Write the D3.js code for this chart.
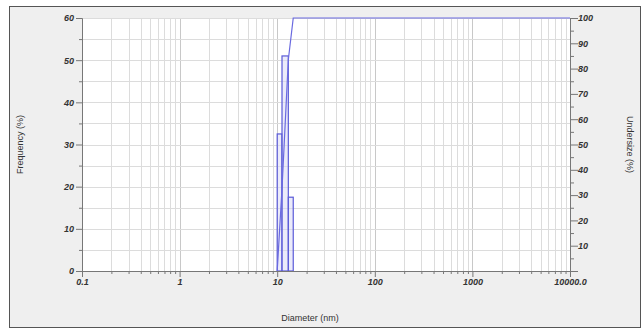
<!DOCTYPE html>
<html>
<head>
<meta charset="utf-8">
<script src="https://cdn.jsdelivr.net/npm/d3@7"></script>
<style>
  body { margin: 0; background: #fff; }
  text { font-family: "Liberation Sans", Arial, sans-serif; fill: #333; }
</style>
</head>
<body>
<div id="chart"></div>
<script>
// bin edges (nm) and frequency per bin (%)
var binEdges = [10.0, 11.2, 13.0, 14.6];
var frequency = [32.5, 51, 17.5];
// cumulative undersize (%) at each edge, then flat to the end of the axis
var cumDiameter = [10.0, 11.2, 13.0, 14.6, 10000];
var undersize = [0, 32.5, 83.5, 100, 100];

var xTickLabels = [0.1, 1, 10, 100, 1000, 10000];
var leftTicks = [0, 10, 20, 30, 40, 50, 60];
var rightTicks = [10, 20, 30, 40, 50, 60, 70, 80, 90, 100];

var width = 643, height = 329;
// note: "top" is taken by window.top, so use plot* names
var plotLeft = 82, plotRight = 570, plotTop = 18, plotBottom = 271;

var svg = d3.select("#chart").append("svg")
    .attr("width", width)
    .attr("height", height);

// outer frame
svg.append("rect")
    .attr("x", 9.5).attr("y", 6.5)
    .attr("width", 631).attr("height", 321)
    .attr("fill", "#efefef")
    .attr("stroke", "#555");

svg.append("rect")
    .attr("x", plotLeft).attr("y", plotTop)
    .attr("width", plotRight - plotLeft).attr("height", plotBottom - plotTop)
    .attr("fill", "#fff");

var x = d3.scaleLog().domain([0.1, 10000]).range([plotLeft, plotRight]);
var yL = d3.scaleLinear().domain([0, 60]).range([plotBottom, plotTop]);
var yR = d3.scaleLinear().domain([0, 100]).range([plotBottom, plotTop]);

// minor log ticks for grid
var minor = [];
xTickLabels.slice(0, -1).forEach(function (d) {
    for (var k = 1; k < 10; k++) minor.push(+(d * k).toPrecision(6));
});
minor.push(10000);

var grid = svg.append("g");
grid.selectAll("line.v").data(minor).enter().append("line")
    .attr("x1", function (d) { return Math.round(x(d)) + 0.5; })
    .attr("x2", function (d) { return Math.round(x(d)) + 0.5; })
    .attr("y1", plotTop).attr("y2", plotBottom)
    .attr("stroke", function (d) { return xTickLabels.indexOf(d) >= 0 ? "#c8c8c8" : "#dcdcdc"; })
    .attr("stroke-width", 1);

grid.selectAll("line.h").data(d3.range(5, 61, 5)).enter().append("line")
    .attr("x1", plotLeft).attr("x2", plotRight)
    .attr("y1", function (d) { return Math.round(yL(d)) + 0.5; })
    .attr("y2", function (d) { return Math.round(yL(d)) + 0.5; })
    .attr("stroke", "#dcdcdc");

// histogram bars
var bars = frequency.map(function (f, i) {
    return { x0: binEdges[i], x1: binEdges[i + 1], f: f };
});
svg.append("g").selectAll("rect").data(bars).enter().append("rect")
    .attr("x", function (d) { return x(d.x0); })
    .attr("width", function (d) { return x(d.x1) - x(d.x0); })
    .attr("y", function (d) { return yL(d.f); })
    .attr("height", function (d) { return plotBottom - yL(d.f); })
    .attr("fill", "#d8d8f6")
    .attr("fill-opacity", 0.5)
    .attr("stroke", "#5a5ad8")
    .attr("stroke-width", 1.2);

// cumulative line
var line = d3.line()
    .x(function (d) { return x(d[0]); })
    .y(function (d) { return yR(d[1]); });
svg.append("path")
    .datum(cumDiameter.map(function (d, i) { return [d, undersize[i]]; }))
    .attr("d", line)
    .attr("fill", "none")
    .attr("stroke", "#6a6ae0")
    .attr("stroke-width", 1.2);

// axes
var fmtX = function (d) { return d === 10000 ? "10000.0" : String(d); };
var xAxis = svg.append("g")
    .attr("transform", "translate(0," + plotBottom + ")")
    .call(d3.axisBottom(x).tickValues(minor).tickSize(3)
        .tickFormat(function (d) { return xTickLabels.indexOf(d) >= 0 ? fmtX(d) : ""; }));
xAxis.selectAll(".tick line")
    .attr("y2", function (d) { return xTickLabels.indexOf(d) >= 0 ? 6 : 3; })
    .attr("stroke", "#777");

var yAxisL = svg.append("g")
    .attr("transform", "translate(" + plotLeft + ",0)")
    .call(d3.axisLeft(yL).tickValues(d3.range(0, 61, 5)).tickSize(5)
        .tickFormat(function (d) { return leftTicks.indexOf(d) >= 0 ? d : ""; }));
yAxisL.selectAll(".tick line")
    .attr("x2", function (d) { return d % 10 === 0 ? -6 : -3; })
    .attr("stroke", "#777");

var yAxisR = svg.append("g")
    .attr("transform", "translate(" + plotRight + ",0)")
    .call(d3.axisRight(yR).tickValues(d3.range(0, 101, 5)).tickSize(5)
        .tickFormat(function (d) { return rightTicks.indexOf(d) >= 0 ? d : ""; }));
yAxisR.selectAll(".tick line")
    .attr("x2", function (d) { return d % 10 === 0 ? 8 : 4; })
    .attr("stroke", "#777");

[xAxis, yAxisL, yAxisR].forEach(function (a) {
    a.select(".domain").attr("stroke", "#777");
    a.selectAll(".tick text")
        .attr("font-size", 9)
        .attr("font-style", "italic")
        .attr("font-weight", "bold")
        .attr("fill", "#555");
});
xAxis.selectAll(".tick text").attr("dy", "0.9em");

// axis titles
svg.append("text")
    .attr("x", (plotLeft + plotRight) / 2 - 16).attr("y", 321)
    .attr("text-anchor", "middle")
    .attr("font-size", 9)
    .text("Diameter (nm)");

svg.append("text")
    .attr("transform", "translate(23," + (plotTop + plotBottom) / 2 + ") rotate(-90)")
    .attr("text-anchor", "middle")
    .attr("font-size", 9)
    .attr("fill", "#777")
    .text("Frequency (%)");

svg.append("text")
    .attr("transform", "translate(627," + (plotTop + plotBottom) / 2 + ") rotate(90)")
    .attr("text-anchor", "middle")
    .attr("font-size", 9)
    .attr("fill", "#777")
    .text("Undersize (%)");
</script>
</body>
</html>
